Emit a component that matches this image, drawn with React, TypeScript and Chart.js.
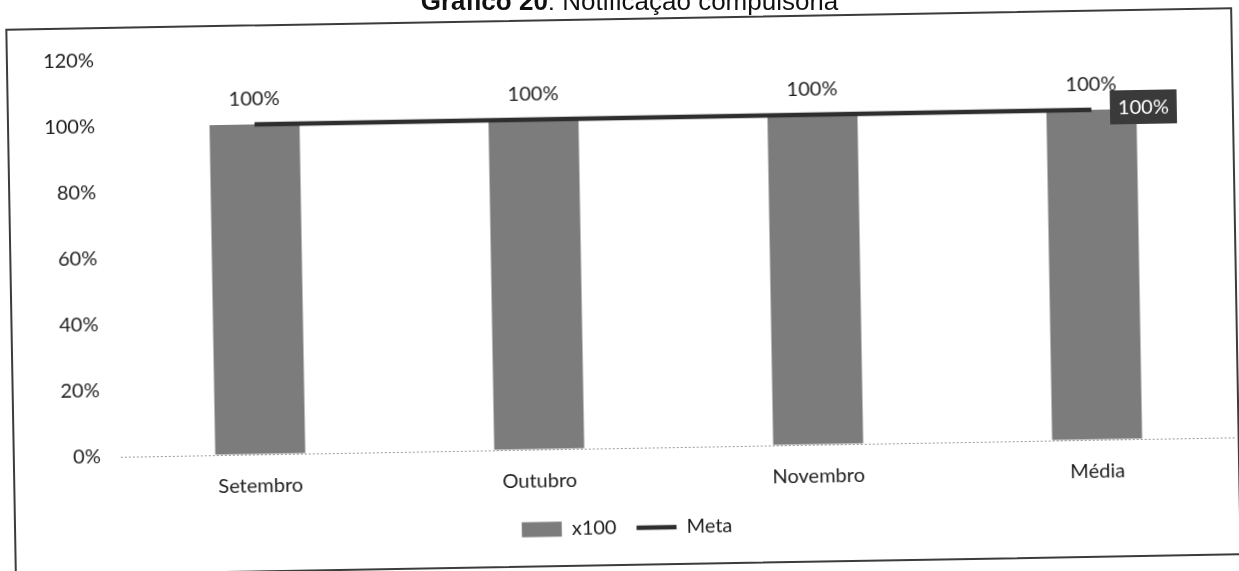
import React, { useEffect, useRef } from "react";
import { Chart, registerables } from "chart.js";

Chart.register(...registerables);

// Monthly compliance data (percent)
const categories = ["Setembro", "Outubro", "Novembro", "Média"];
const x100Values = [100, 100, 100, 100];
const metaValues = [100, 100, 100, 100];
const yMin = 0;
const yMax = 120;
const yStep = 20;

const FONT = "Lato, 'Open Sans', sans-serif";
const TEXT = "#1e1e1e";
const BAR_GRAY = "#7c7c7c";
const LINE_DARK = "#2e2e2e";

// Draws the value labels above the bars and the boxed label at the end of the target line
const valueLabels = {
  id: "valueLabels",
  afterDatasetsDraw(chart: any) {
    const ctx = chart.ctx;
    ctx.save();
    ctx.font = `20px ${FONT}`;
    ctx.textAlign = "center";
    ctx.textBaseline = "middle";

    const barMeta = chart.getDatasetMeta(0);
    barMeta.data.forEach((el: any, i: number) => {
      const v = chart.data.datasets[0].data[i];
      ctx.fillStyle = TEXT;
      ctx.fillText(`${v}%`, el.x, el.y - 25);
    });

    const lineMeta = chart.getDatasetMeta(1);
    const last = lineMeta.data.length - 1;
    const pt = lineMeta.data[last];
    const lv = chart.data.datasets[1].data[last];
    const text = `${lv}%`;
    const w = ctx.measureText(text).width + 16;
    const h = 34;
    const cx = pt.x + 52;
    ctx.fillStyle = "#3a3a3a";
    ctx.fillRect(cx - w / 2, pt.y - h / 2 - 2, w, h);
    ctx.fillStyle = "#ffffff";
    ctx.fillText(text, cx, pt.y - 1);
    ctx.restore();
  },
};

function ChartCanvas() {
  const ref = useRef<HTMLCanvasElement | null>(null);

  useEffect(() => {
    if (!ref.current) return;
    const chart = new Chart(ref.current, {
      data: {
        labels: categories,
        datasets: [
          {
            type: "bar",
            label: "x100",
            data: x100Values,
            backgroundColor: BAR_GRAY,
            borderWidth: 0,
            categoryPercentage: 1,
            barPercentage: 0.3226,
            order: 1,
          },
          {
            type: "line",
            label: "Meta",
            data: metaValues,
            borderColor: LINE_DARK,
            backgroundColor: LINE_DARK,
            borderWidth: 4.5,
            pointRadius: 0,
            tension: 0,
            order: 0,
          },
        ],
      } as any,
      options: {
        animation: false,
        responsive: false,
        maintainAspectRatio: false,
        layout: { padding: { top: 26, left: 0, right: 1, bottom: 16 } },
        scales: {
          x: {
            offset: true,
            grid: { display: false, drawTicks: false },
            border: { display: false },
            ticks: {
              padding: 20,
              color: TEXT,
              font: { family: FONT, size: 20 },
            },
            afterFit: (s: any) => {
              s.height = 50;
            },
          },
          y: {
            min: yMin,
            max: yMax,
            grid: {
              drawTicks: false,
              lineWidth: 1,
              color: (c: any) => (c.tick && c.tick.value === 0 ? "#9a9a9a" : "rgba(0,0,0,0)"),
            },
            border: { display: false, dash: [2, 2] },
            ticks: {
              stepSize: yStep,
              padding: 20,
              color: TEXT,
              font: { family: FONT, size: 20 },
              callback: (v: any) => `${v}%`,
            },
            afterFit: (s: any) => {
              s.width = 106;
            },
          },
        },
        plugins: {
          tooltip: { enabled: false },
          legend: {
            position: "bottom",
            labels: {
              color: TEXT,
              font: { family: FONT, size: 20 },
              usePointStyle: true,
              pointStyleWidth: 40,
              boxWidth: 40,
              boxHeight: 15,
              padding: 20,
              generateLabels: (c: any) =>
                c.data.datasets.map((ds: any, i: number) => ({
                  text: ds.label,
                  datasetIndex: i,
                  fillStyle: i === 0 ? BAR_GRAY : LINE_DARK,
                  strokeStyle: i === 0 ? BAR_GRAY : LINE_DARK,
                  lineWidth: i === 0 ? 0 : 4.5,
                  pointStyle: i === 0 ? "rect" : "line",
                  fontColor: TEXT,
                  hidden: false,
                })),
            },
          },
        },
      } as any,
      plugins: [valueLabels],
    });
    return () => chart.destroy();
  }, []);

  return <canvas ref={ref} width={1223} height={544} style={{ display: "block", width: 1223, height: 544 }} />;
}

export default function App() {
  return (
    <div
      style={{
        position: "fixed",
        left: 0,
        top: 0,
        width: 1239,
        height: 571,
        overflow: "hidden",
        background: "#ffffff",
      }}
    >
      <div
        style={{
          position: "absolute",
          left: 9.5,
          top: 18,
          width: 1227,
          height: 548,
          boxSizing: "border-box",
          border: "2px solid #3c3c3c",
          transform: "rotate(-1deg)",
          transformOrigin: "50% 50%",
          background: "#ffffff",
        }}
      >
        <ChartCanvas />
      </div>
      <div
        style={{
          position: "absolute",
          left: 0,
          top: -12,
          width: 1239,
          paddingLeft: 20,
          boxSizing: "border-box",
          textAlign: "center",
          fontFamily: "'Liberation Sans', Arial, sans-serif",
          fontSize: 26,
          lineHeight: "26px",
          color: "#111",
          whiteSpace: "nowrap",
        }}
      >
        <b>Gráfico 20</b>: Notificação compulsória
      </div>
    </div>
  );
}
